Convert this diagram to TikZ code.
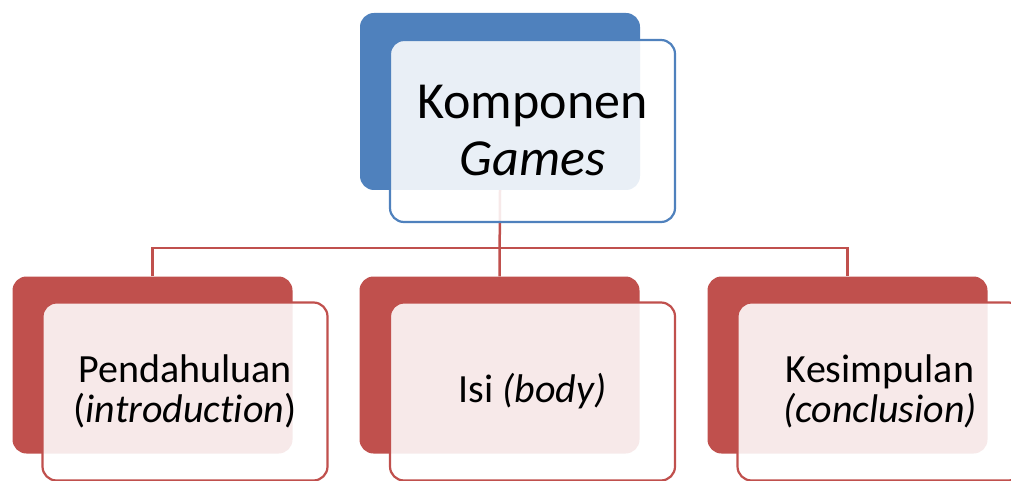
\documentclass[tikz,border=0pt]{standalone}
\usepackage{fontspec}
\setmainfont{Carlito}[Ligatures={NoCommon}]
\definecolor{accblue}{HTML}{4F81BD}
\definecolor{accred}{HTML}{C0504D}
\begin{document}
\begin{tikzpicture}[x=1pt,y=-1pt,
  backbox/.style={rectangle,rounded corners=14pt,inner sep=0pt,minimum width=280pt,minimum height=177pt},
  frontbox/.style={rectangle,rounded corners=14pt,inner sep=0pt,minimum width=285pt,minimum height=178pt,
     line width=2.2pt,fill=white,fill opacity=0.88,text opacity=1,align=center},
  toptext/.style={font=\fontsize{52}{57}\selectfont},
  subtext/.style={font=\fontsize{40}{40}\selectfont},
  link/.style={draw=accred,line width=2.5pt}]
\useasboundingbox (0,0) rectangle (1011,481);
% back boxes
\node[backbox,fill=accblue] (tb) at (500,101.5) {};
\node[backbox,fill=accred] (lb) at (152.5,365) {};
\node[backbox,fill=accred] (mb) at (499.5,365) {};
\node[backbox,fill=accred] (rb) at (847.5,365) {};
% connectors
\coordinate (hub) at (500,248);
\draw[link] (tb.south) -- (mb.north);
\draw[link] (lb.north) |- (hub) -| (rb.north);
% front boxes
\node[frontbox,draw=accblue,minimum height=182pt,toptext] (tf) at (532.5,131) {Komponen\\\textit{Games}};
\node[frontbox,draw=accred,subtext] (lf) at (185,391.5) {Pendahuluan\\(\textit{introduction})};
\node[frontbox,draw=accred,subtext] (mf) at (532.5,391.5) {Isi \textit{(body)}};
\node[frontbox,draw=accred,subtext] (rf) at (880,391.5) {Kesimpulan\\\textit{(conclusion)}};
\end{tikzpicture}
\end{document}
